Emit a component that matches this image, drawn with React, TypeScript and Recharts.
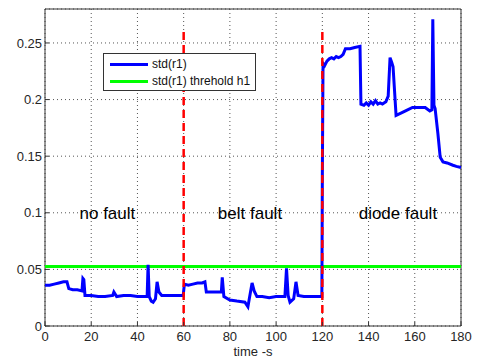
import {
  LineChart, Line, XAxis, YAxis, CartesianGrid, ReferenceLine, ReferenceArea,
  ReferenceDot,
} from 'recharts'

// std(r1) residual
const TIME = [
  0, 2, 4, 6, 8, 9.5, 10.3, 12, 14, 16, 16.4, 16.8, 17.3, 20, 23, 26, 29.3, 29.8, 31, 34, 37, 40, 43, 44.2,
  44.6, 45.1, 46, 46.8, 47.8, 48.5, 49.3, 50.5, 53, 56, 59.8,
  60.3, 62, 64, 66, 68, 69.2, 69.8, 72, 74, 76.3, 76.7, 77.4, 80, 83, 86.5, 87.8, 88.4, 89.6, 90.5, 91.7,
  94, 97, 100, 103.8, 104.5, 105.2, 106, 107.6, 108.6, 109.5, 112, 115, 119.8,
  120, 120.3, 121, 122, 123, 124, 125, 126, 127, 128, 129, 130, 132, 134, 136.3, 136.7,
  138, 139, 140, 141, 142, 143, 144, 145, 146, 147.5, 148.5, 149.3, 150, 150.6, 151.9, 154, 156, 159, 162, 164.5, 166.5, 167.4,
  167.8, 168.3, 168.8, 170, 171, 172.2, 174, 176.5, 178, 180,
]
const STD_R1 = [
  0.036, 0.036, 0.037, 0.038, 0.039, 0.039, 0.033, 0.032, 0.032, 0.031, 0.042, 0.041, 0.027, 0.027, 0.026, 0.026, 0.027, 0.030, 0.026, 0.027, 0.027, 0.026, 0.026, 0.026,
  0.054, 0.026, 0.022, 0.021, 0.024, 0.039, 0.030, 0.027, 0.027, 0.027, 0.027,
  0.037, 0.036, 0.037, 0.038, 0.038, 0.039, 0.030, 0.030, 0.030, 0.030, 0.043, 0.026, 0.023, 0.022, 0.021, 0.017, 0.024, 0.038, 0.031, 0.026,
  0.026, 0.025, 0.026, 0.026, 0.051, 0.027, 0.021, 0.024, 0.039, 0.027, 0.026, 0.026, 0.026,
  0.13, 0.232, 0.230, 0.234, 0.236, 0.237, 0.236, 0.238, 0.237, 0.238, 0.240, 0.245, 0.245, 0.246, 0.247, 0.196,
  0.195, 0.197, 0.195, 0.198, 0.196, 0.199, 0.196, 0.197, 0.196, 0.198, 0.203, 0.237, 0.233, 0.229, 0.186, 0.188, 0.190, 0.193, 0.193, 0.193, 0.190, 0.191,
  0.271, 0.195, 0.192, 0.170, 0.149, 0.145, 0.144, 0.142, 0.141, 0.140,
]
const THRESHOLD = 0.0525
const FAULT_TIMES = [60, 120]
const ZONES = [
  { t: 27, label: 'no fault' },
  { t: 88.7, label: 'belt fault' },
  { t: 152.7, label: 'diode fault' },
]
const LEGEND = [
  { color: '#0000ff', text: 'std(r1)' },
  { color: '#00ff00', text: 'std(r1) threhold h1' },
]
const X_TICKS = [0, 20, 40, 60, 80, 100, 120, 140, 160, 180]
const Y_TICKS = [0, 0.05, 0.1, 0.15, 0.2, 0.25]

const data = TIME.map((t, i) => ({ t, v: STD_R1[i] }))

const FONT = '"Liberation Sans", Arial, sans-serif'
const tickStyle = { fontSize: 13, fill: '#262626', fontFamily: FONT }

function MatlabLegend() {
  return (
    <div
      style={{
        position: 'absolute', left: 103, top: 53, width: 153, height: 38,
        boxSizing: 'border-box', background: '#fff', border: '1px solid #333',
        fontFamily: FONT, fontSize: 12, color: '#111',
      }}
    >
      {LEGEND.map((r, i) => (
        <div key={r.text} style={{ position: 'absolute', left: 6, top: 2 + i * 17, display: 'flex', alignItems: 'center', height: 16 }}>
          <span style={{ display: 'inline-block', width: 38, height: 3, background: r.color, marginRight: 4 }} />
          <span style={{ whiteSpace: 'nowrap' }}>{r.text}</span>
        </div>
      ))}
    </div>
  )
}

export default function App() {
  return (
    <div style={{ position: 'absolute', left: 0, top: 0, width: 478, height: 361, background: '#fff' }}>
      <LineChart width={478} height={361} data={data} margin={{ top: 9, right: 17, left: 0, bottom: 0 }}>
        <CartesianGrid stroke="#555" strokeDasharray="1 3" />
        <XAxis
          dataKey="t" type="number" domain={[0, 180]} ticks={X_TICKS} height={35}
          axisLine={false} tickLine={{ stroke: '#333' }} tickSize={-4} tickMargin={10} tick={tickStyle}
          label={{ value: 'time -s', position: 'insideBottom', offset: 5, style: { ...tickStyle, textAnchor: 'middle' } }}
        />
        <YAxis
          type="number" domain={[0, 0.28]} ticks={Y_TICKS} width={45} allowDataOverflow
          axisLine={false} tickLine={{ stroke: '#333' }} tickSize={-4} tickMargin={7} tick={tickStyle}
        />
        <ReferenceArea x1={0} x2={180} y1={0} y2={0.28} fill="none" stroke="#333" strokeWidth={1} />
        <ReferenceLine y={THRESHOLD} stroke="#00ff00" strokeWidth={3} />
        <Line dataKey="v" type="linear" stroke="#0000ff" strokeWidth={3} dot={false} isAnimationActive={false} />
        {FAULT_TIMES.map(t => (
          <ReferenceLine
            key={t}
            segment={[{ x: t, y: 0 }, { x: t, y: 0.26 }]}
            stroke="#ff0000" strokeWidth={2.5} strokeDasharray="8 5"
          />
        ))}
        {ZONES.map(z => (
          <ReferenceDot
            key={z.label} x={z.t} y={0.1} r={0} fill="none" stroke="none"
            label={{ value: z.label, position: 'center', style: { fontSize: 17, fill: '#000', fontFamily: FONT } }}
          />
        ))}
      </LineChart>
      <MatlabLegend />
    </div>
  )
}
